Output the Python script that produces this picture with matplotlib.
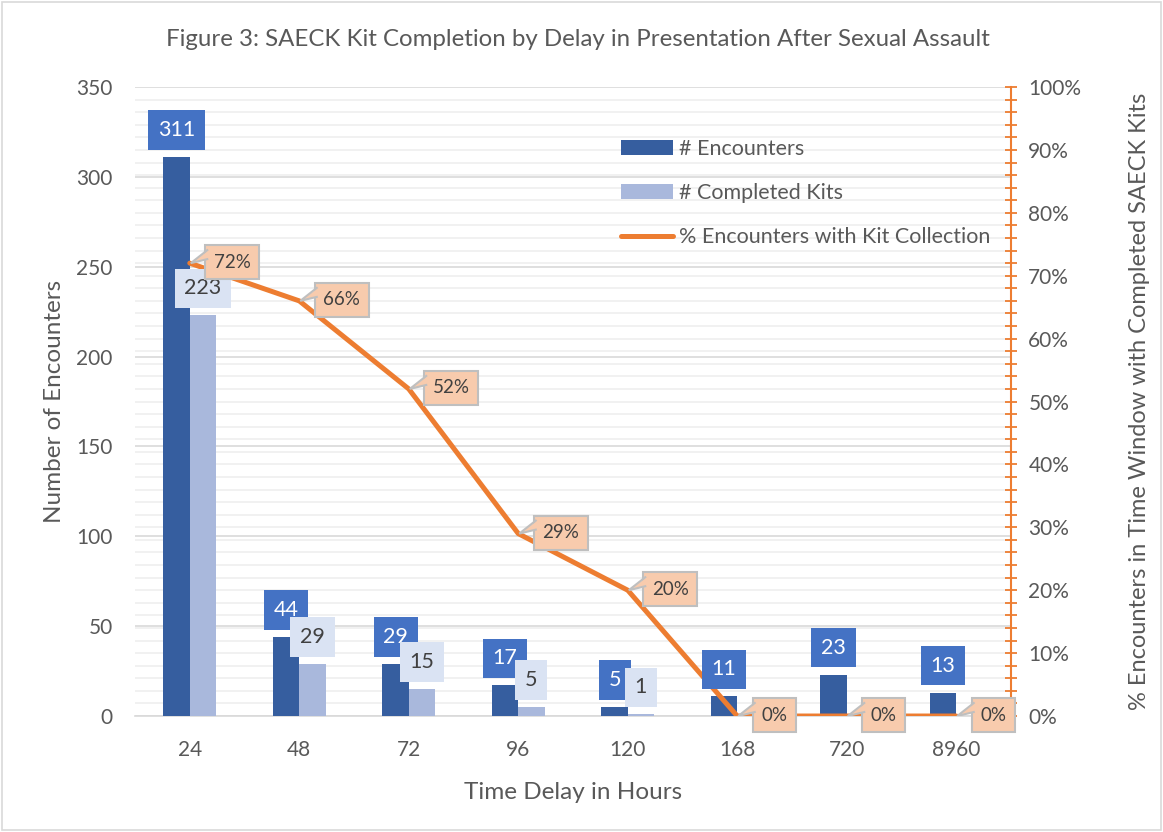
import matplotlib.pyplot as plt
from matplotlib.ticker import MultipleLocator, PercentFormatter
from matplotlib.patches import Rectangle, Polygon
import numpy as np

plt.rcParams['font.family'] = ['Lato', 'DejaVu Sans']

# Chart data
hours = ['24', '48', '72', '96', '120', '168', '720', '8960']
encounters = [311, 44, 29, 17, 5, 11, 23, 13]
completed = [223, 29, 15, 5, 1, 0, 0, 0]
pct_kits = [0.72, 0.66, 0.52, 0.29, 0.20, 0.0, 0.0, 0.0]

TXT = '#595959'
DARK = '#365E9F'
LIGHT = '#A9B8DC'
ORANGE = '#ED7D31'
CALLOUT = '#F8CBAD'
CALLOUT_EDGE = '#BFBFBF'

fig = plt.figure(figsize=(11.63, 8.32), dpi=100)
ax = fig.add_axes([0.1161, 0.1394, 0.7532, 0.756])
ax2 = ax.twinx()

x = np.arange(len(hours))
w = 0.24
ax.bar(x - w / 2, encounters, w, color=DARK, label='# Encounters', zorder=3)
ax.bar(x + w / 2, completed, w, color=LIGHT, label='# Completed Kits', zorder=3)

ax.set_xlim(-0.5, len(hours) - 0.5)
ax.set_ylim(0, 350)
ax.yaxis.set_major_locator(MultipleLocator(50))
ax.yaxis.set_minor_locator(MultipleLocator(7))  # 2% steps of right axis
ax.grid(axis='y', which='major', color='#D9D9D9', lw=1.2, zorder=0)
ax.grid(axis='y', which='minor', color='#EFEFEF', lw=1.2, zorder=0)
ax.set_axisbelow(True)
ax.set_xticks(x)
ax.set_xticklabels(hours)
ax.tick_params(axis='x', length=0, pad=17, labelsize=15, labelcolor=TXT)
ax.tick_params(axis='y', which='both', length=0, pad=16, labelsize=15, labelcolor=TXT)
for s in ['top', 'left', 'right']:
    ax.spines[s].set_visible(False)
ax.spines['bottom'].set_color('#D9D9D9')
ax.spines['bottom'].set_linewidth(1.2)
ax.set_xlabel('Time Delay in Hours', fontsize=17.5, color=TXT, labelpad=16)
ax.set_ylabel('Number of Encounters', fontsize=17.5, color=TXT, labelpad=8)

# line on secondary axis
ax2.plot(x, pct_kits, color=ORANGE, lw=3.6, solid_joinstyle='round',
         solid_capstyle='round', label='% Encounters with Kit Collection', zorder=3)
ax2.set_ylim(0, 1)
ax2.yaxis.set_major_locator(MultipleLocator(0.1))
ax2.yaxis.set_minor_locator(MultipleLocator(0.02))
ax2.yaxis.set_major_formatter(PercentFormatter(1.0, decimals=0))
ax2.tick_params(axis='y', which='both', direction='inout', length=9, width=1.3,
                color=ORANGE, labelsize=15, labelcolor=TXT, pad=8)
for s in ['top', 'left', 'bottom']:
    ax2.spines[s].set_visible(False)
ax2.spines['right'].set_color(ORANGE)
ax2.spines['right'].set_linewidth(1.5)
ax2.set_ylabel('% Encounters in Time Window with Completed SAECK Kits',
               fontsize=17, color=TXT, labelpad=34)

# bar data labels
for i, v in enumerate(encounters):
    ax2.annotate(str(v), xy=(x[i] - w / 2, v), xycoords=ax.transData,
                 xytext=(0, 17), textcoords='offset pixels', ha='center', va='bottom',
                 fontsize=15.5, color='white', zorder=5,
                 bbox=dict(boxstyle='square,pad=0.45', fc='#4472C4', ec='none'))
for i, v in enumerate(completed):
    if v == 0:
        continue
    ax2.annotate(str(v), xy=(x[i] + w / 2, v), xycoords=ax.transData,
                 xytext=(0, 17), textcoords='offset pixels', ha='center', va='bottom',
                 fontsize=15.5, color='#404040', zorder=5,
                 bbox=dict(boxstyle='square,pad=0.45', fc='#DAE3F3', ec='none'))

# callout labels for percentages
for i, p in enumerate(pct_kits):
    ax2.annotate(f'{p:.0%}', xy=(x[i], p), xytext=(24, 1), textcoords='offset pixels',
                 ha='left', va='center', fontsize=13.5, color='#404040', zorder=6,
                 bbox=dict(boxstyle='square,pad=0.45', fc=CALLOUT, ec=CALLOUT_EDGE, lw=1.5))
    # pointer from the box's upper left edge down to the data point (pixel offsets)
    px, py = ax2.transData.transform((x[i], p))
    ax2.add_patch(Polygon([(px + 1, py), (px + 19, py + 4), (px + 19, py + 13)],
                          closed=True, transform=None, fc=CALLOUT, ec='none', zorder=6.5))
    ax2.plot([px + 17.5, px + 1, px + 17.5], [py + 13, py, py + 4], transform=None,
             color=CALLOUT_EDGE, lw=1.5, zorder=6.6, solid_joinstyle='miter')

h1, l1 = ax.get_legend_handles_labels()
h2, l2 = ax2.get_legend_handles_labels()
leg = ax2.legend(h1 + h2, l1 + l2, loc='upper left', bbox_to_anchor=(0.555, 0.918),
                 frameon=False, fontsize=15.5, labelcolor=TXT, handlelength=2.42,
                 handletextpad=0.25, labelspacing=1.13, borderpad=0, borderaxespad=0)
leg.set_zorder(7)

fig.text(0.497, 0.952, 'Figure 3: SAECK Kit Completion by Delay in Presentation After Sexual Assault',
         ha='center', va='center', fontsize=17.3, color=TXT)

fig.patches.append(Rectangle((0.002, 0.002), 0.996, 0.996, transform=fig.transFigure,
                             fill=False, ec='#D9D9D9', lw=1.2))

fig.savefig('out.png', dpi=100)
